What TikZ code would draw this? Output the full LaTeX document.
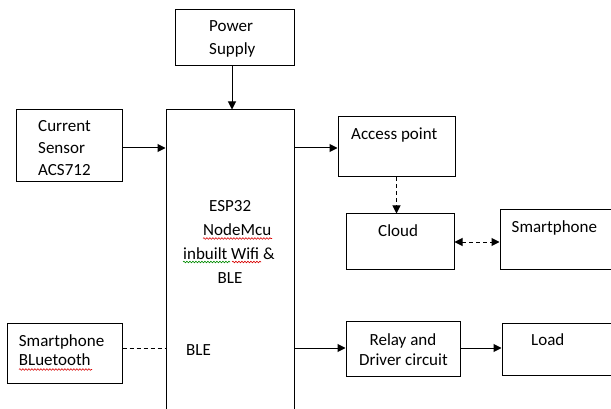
\documentclass[tikz,border=0pt]{standalone}
\usepackage{fontspec}
\setmainfont{Carlito}
\usetikzlibrary{arrows.meta,decorations.pathmorphing}
\begin{document}
\begin{tikzpicture}[x=1pt,y=-1pt,
  box/.style={draw=black,line width=1pt,inner sep=0pt,fill=white},
  lbl/.style={anchor=base west,inner sep=0pt,font=\fontsize{17}{20}\selectfont},
  arr/.style={line width=1pt,-{Triangle[length=8pt,width=8pt]}},
  darr/.style={line width=1pt,dashed,dash pattern=on 4pt off 3pt,-{Triangle[length=8pt,width=8pt]}},
  dbiarr/.style={line width=1pt,dash pattern=on 4pt off 3pt,{Triangle[length=8pt,width=8pt]}-{Triangle[length=8pt,width=8pt]}},
  dline/.style={line width=1pt,dash pattern=on 4pt off 3pt},
  squig/.style={line width=0.6pt,decorate,decoration={snake,amplitude=0.8pt,segment length=3pt}},
  ]
\useasboundingbox (0,0) rectangle (611,409);
\clip (0,0) rectangle (611,409);
\fill[white] (0,0) rectangle (611,409);
% boxes
\node[box,minimum width=119pt,minimum height=56pt] (ps) at (234.5,38) {};
\node[box,minimum width=128pt,minimum height=320pt] (esp) at (230,270) {};
\node[box,minimum width=106pt,minimum height=72pt] (cs) at (69,146) {};
\node[box,minimum width=117pt,minimum height=60pt] (ap) at (396.5,147) {};
\node[box,minimum width=108pt,minimum height=55pt] (cloud) at (400,241.5) {};
\node[box,minimum width=115pt,minimum height=59pt] (sp) at (557.5,239.5) {};
\node[box,minimum width=114pt,minimum height=55pt] (relay) at (403,348.5) {};
\node[box,minimum width=113pt,minimum height=52pt] (load) at (558.5,349) {};
\node[box,minimum width=115pt,minimum height=60pt] (spbl) at (64.5,353) {};
% texts
\node[lbl] (t1) at (209,31.7) {Power};
\node[lbl] (t2) at (209,55) {Supply};
\node[lbl] (t3) at (38,132) {Current};
\node[lbl] (t4) at (38,154) {Sensor};
\node[lbl] (t5) at (38,176) {ACS712};
\node[lbl] (t6) at (351,140) {Access point};
\node[lbl] (t7) at (378,236.7) {Cloud};
\node[lbl] (t8) at (511.5,233) {Smartphone};
\node[lbl] (t9) at (209,211.7) {ESP32};
\node[lbl] (t10) at (203,235.7) {NodeMcu};
\node[lbl] (t11) at (183,259) {inbuilt Wifi \&};
\node[lbl] (t12) at (217.5,283.3) {BLE};
\node[lbl] (t13) at (186,355.7) {BLE};
\node[lbl] (t14) at (369.4,345) {Relay and};
\node[lbl] (t15) at (359,365) {Driver circuit};
\node[lbl] (t16) at (531,345.7) {Load};
\node[lbl] (t17) at (18.7,346) {Smartphone};
\node[lbl] (t18) at (18.7,365.7) {BLuetooth};
% spell-check squiggles
\draw[squig,red!85!black] (203,238.5) -- (272,238.5);
\draw[squig,green!55!black] (183,262) -- (230,262);
\draw[squig,red!85!black] (232,262) -- (261,262);
\draw[squig,red!85!black] (19,369.5) -- (92,369.5);
% connectors
\draw[arr] (ps.south -| 232,0) -- (esp.north -| 232,0);
\draw[arr] (cs.east |- 0,148) -- (esp.west |- 0,148);
\draw[arr] (esp.east |- 0,148) -- (ap.west |- 0,148);
\draw[darr] (ap.south) -- (ap.south |- cloud.north);
\draw[dbiarr] (cloud.east |- 0,242) -- (sp.west |- 0,242);
\draw[arr] (esp.east |- 0,348) -- (relay.west |- 0,348);
\draw[arr] (relay.east |- 0,348) -- (load.west |- 0,348);
\draw[dline] (spbl.east |- 0,348) -- (esp.west |- 0,348);
\end{tikzpicture}
\end{document}
